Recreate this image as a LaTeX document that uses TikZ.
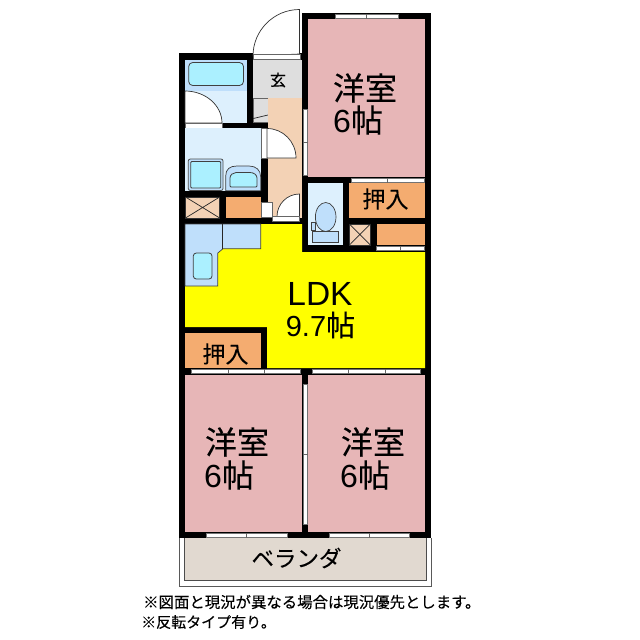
\documentclass[tikz,border=0pt]{standalone}
\usepackage{fontspec}
\setmainfont{Noto Sans CJK JP}[FakeBold=0.12]
\newfontfamily\latinfont{Liberation Sans}
\usetikzlibrary{positioning}
\definecolor{roompink}{HTML}{E7B6B7}
\definecolor{ldkyellow}{HTML}{FFFF00}
\definecolor{closetorange}{HTML}{F4AC70}
\definecolor{floorpeach}{HTML}{F3D2B5}
\definecolor{entrygrey}{HTML}{DEDEDE}
\definecolor{wetblue}{HTML}{DDF0FD}
\definecolor{fixblue}{HTML}{BFDFFB}
\definecolor{tubcyan}{HTML}{ABF0FF}
\definecolor{verandabeige}{HTML}{E1D9D0}
\tikzset{
wall/.style = {fill=black},
room/.style = {fill=roompink},
closet/.style = {fill=closetorange},
thinline/.style = {draw=black!85, line width=0.7pt},
fixture/.style = {draw=black!75, fill=fixblue, line width=0.7pt},
tub/.style = {draw=black!75, fill=tubcyan, line width=0.8pt, rounded corners=2.5pt},
doorleaf/.style = {draw=black!80, fill=white, line width=0.7pt},
sill/.style = {draw=black!60, fill=white, line width=0.5pt},
crossbox/.style = {draw=black!80, fill=floorpeach, line width=0.6pt},
windowbar/.style = {draw=black!55, fill=white, line width=0.8pt},
tick/.style = {draw=black!60, line width=0.8pt},
roomtext/.style = {inner sep=0pt, font=\fontsize{32}{32}\selectfont},
matstext/.style = {inner sep=0pt, anchor=west, font=\fontsize{32}{32}\selectfont},
closettext/.style = {inner sep=0pt, font=\fontsize{23}{23}\selectfont},
notetext/.style = {inner sep=0pt, anchor=west, font=\fontsize{15.4}{15}\selectfont},
}
\begin{document}
\begin{tikzpicture}[x=1pt,y=-1pt]
        \useasboundingbox (0,0) rectangle (640,640);
        \fill[white] (0,0) rectangle (640,640);
        %veranda
        \draw[draw=black!65, line width=0.8pt] (179.5,538) -- (179.5,586) -- (431,586) -- (431,538);
        \fill[verandabeige] (184.5,538) rectangle (426,580.5);
        \draw[draw=black!70, line width=0.8pt] (184.5,538) -- (184.5,580.5) -- (426,580.5) -- (426,538);
        %walls as one black block, rooms on top
        \fill[wall] (179,53) rectangle (302,538);
        \fill[wall] (302,13) rectangle (431,538);
        %entry
        \fill[entrygrey] (253.3,60) rectangle (302,98);
        \fill[white] (247,0) rectangle (302,53);
        \path[doorleaf] (299.5,54) -- (299.5,9.5) arc (270:180:46.5) -- cycle;
        \path[sill] (253.3,54) rectangle (300.5,59.5);
        %storage next to the entry
        \path[draw=black!60, fill=entrygrey, line width=0.6pt] (253.3,98) rectangle (268,122);
        \draw[thinline] (253.3,118.5) -- (268,115);
        %corridor
        \fill[floorpeach] (268,98) rectangle (302,218);
        \fill[wall] (261,158) rectangle (268,202);
        %bath
        \fill[wetblue] (185,60) rectangle (247.3,122.5);
        \fill[fixblue] (185,60) rectangle (247.3,91);
        \path[tub, rounded corners=4pt] (188.7,62.5) rectangle (243.5,85.5);
        \path[doorleaf] (185,123) -- (185,91) arc (270:360:37 and 32) -- cycle;
        \path[sill] (185.5,123) rectangle (222,128);
        %washroom
        \fill[wetblue] (185,128) rectangle (261,190.7);
        \path[sill] (261,128) rectangle (267,158);
        \path[doorleaf] (267,158) -- (267,128.5) arc (270:360:29 and 29.5) -- cycle;
        \path[draw=black!70, fill=fixblue, line width=0.8pt, rounded corners=2pt] (188.3,159) rectangle (223,190.5);
        \path[tub, rounded corners=1pt] (190.8,161.5) rectangle (220.8,188);
        \path[fixture] (225.7,190.7) -- (225.7,176) .. controls (225.7,169) and (230,166) .. (237,166) -- (249,166) .. controls (256,166) and (260.7,170) .. (260.7,177) -- (260.7,190.7) -- cycle;
        \path[tub, rounded corners=1pt] (230,187) -- (230,179) .. controls (230,175) and (233,172.5) .. (237,172.5) -- (249,172.5) .. controls (254,172.5) and (257,175) .. (257,179) -- (257,187) -- cycle;
        %closets under the washroom
        \path[crossbox] (185.5,197) rectangle (219.7,218);
        \draw[thinline] (185.5,197) -- (219.7,218) (185.5,218) -- (219.7,197);
        \fill[closet] (226,197) rectangle (261,218);
        %toilet door
        \path[sill] (261,202) rectangle (272.5,217);
        \path[doorleaf] (299.5,216.5) -- (299.5,194) arc (270:180:22.5) -- cycle;
        \path[sill] (272.5,216.7) rectangle (299.5,221.7);
        %toilet
        \fill[wetblue] (308.3,183) rectangle (343,245);
        \path[fixture] (311,222.3) rectangle (315.7,230);
        \path[fixture] (325.7,217) ellipse (10.3 and 14.5);
        \path[fixture] (312.7,231) rectangle (338.3,242.7);
        %closets on the right
        \fill[closet] (349.3,183) rectangle (425,218);
        \path[crossbox] (349.5,224) rectangle (370.3,245);
        \draw[thinline] (349.5,224) -- (370.3,245) (349.5,245) -- (370.3,224);
        \fill[closet] (376.7,224) rectangle (425,245);
        %ldk
        \fill[ldkyellow] (260.7,224) -- (302,224) -- (302,252) -- (425,252) -- (425,368) -- (267,368) -- (267,327) -- (185,327) -- (185,224) -- cycle;
        \path[fixture] (185,224) -- (260.7,224) -- (260.7,248.7) -- (223,248.7) -- (217.8,253) -- (217.8,286) -- (185,286) -- cycle;
        \draw[thinline] (222,224) -- (222,248.7);
        \path[tub, rounded corners=3pt] (193.3,253) rectangle (212,279);
        \fill[closet] (185,333) rectangle (261,368);
        %rooms
        \path[room] (308.3,19) rectangle (425,177);
        \path[room] (185,375) rectangle (301.7,532.3);
        \path[room] (308.3,375) rectangle (425,532.3);
        %windows
        \path[windowbar] (335,14) rectangle (398,18);
        \draw[tick] (366.5,13.5) -- (366.5,18.5);
        \path[windowbar] (351,178.5) rectangle (424,182);
        \draw[tick] (387.5,178) -- (387.5,183);
        \path[windowbar] (376.7,246.5) rectangle (424,250.5);
        \draw[tick] (400.5,246) -- (400.5,251);
        \path[windowbar] (303,109) rectangle (307,175);
        \draw[tick] (302.5,142) -- (307.5,142);
        \path[windowbar] (191.7,369.5) rectangle (300,373.5);
        \draw[tick] (228,369) -- (228,374) (264,369) -- (264,374);
        \path[windowbar] (312.7,369.5) rectangle (420.7,373.5);
        \draw[tick] (348.5,369) -- (348.5,374) (385,369) -- (385,374);
        \path[windowbar] (303,384) rectangle (307,524);
        \draw[tick] (302.5,454) -- (307.5,454);
        \path[windowbar] (206.7,533.5) rectangle (287.3,537.5);
        \draw[tick] (246.7,533) -- (246.7,538);
        \path[windowbar] (329,533.5) rectangle (409.3,537.5);
        \draw[tick] (369.3,533) -- (369.3,538);
        %labels
        \node [roomtext] (westernA) at (365,88) {洋室};
        \node [matstext] (matsA) at (333,120) {{\latinfont 6}帖};
        \node [inner sep=0pt, font=\fontsize{16}{16}\selectfont] (entrance) at (278,80) {玄};
        \node [closettext] (closetA) at (385.5,199) {押入};
        \node [inner sep=0pt, font=\latinfont\fontsize{33.5}{33}\selectfont] (ldk) at (320,294) {LDK};
        \node [inner sep=0pt, font=\fontsize{29}{29}\selectfont] (matsLdk) at (320.5,325) {{\latinfont 9.7}帖};
        \node [closettext] (closetB) at (225.5,354) {押入};
        \node [roomtext] (westernB) at (237,442) {洋室};
        \node [matstext] (matsB) at (204,475) {{\latinfont 6}帖};
        \node [roomtext] (westernC) at (373,442) {洋室};
        \node [matstext] (matsC) at (340,475) {{\latinfont 6}帖};
        \node [inner sep=0pt, font=\fontsize{22.5}{22}\selectfont] (veranda) at (296.5,558) {ベランダ};
        \node [notetext] (noteA) at (143,602) {※図面と現況が異なる場合は現況優先とします。};
        \node [notetext, font=\fontsize{15}{15}\selectfont] (noteB) at (141,622) {※反転タイプ有り。};
\end{tikzpicture}
\end{document}
